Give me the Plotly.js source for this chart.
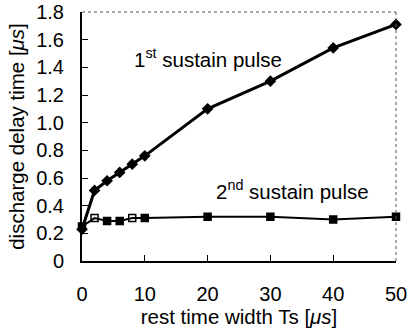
<!DOCTYPE html>
<html><head><meta charset="utf-8">
<script src="https://cdn.plot.ly/plotly-3.0.1.min.js"></script>
<style>html,body{margin:0;padding:0;background:#fff}#c{width:408px;height:333px}</style>
</head><body><div id="c"></div>
<script>
const restTime = [0, 2, 4, 6, 8, 10, 20, 30, 40, 50];
const firstPulse = [0.23, 0.51, 0.58, 0.64, 0.70, 0.76, 1.10, 1.30, 1.54, 1.71];
const secondPulse = [0.25, 0.31, 0.29, 0.29, 0.31, 0.31, 0.32, 0.32, 0.30, 0.32];
const secondSymbols = ['square','square-open','square','square','square-open','square','square','square','square','square'];
const yTickVals = [0, 0.2, 0.4, 0.6, 0.8, 1.0, 1.2, 1.4, 1.6, 1.8];
const yTickText = ['0', '0.2', '0.4', '0.6', '0.8', '1.0', '1.2', '1.4', '1.6', '1.8'];
const xTickVals = [0, 10, 20, 30, 40, 50];

const font = {family: 'Liberation Sans, Arial, sans-serif', color: '#000'};
const f = s => Object.assign({size: s}, font);
const data = [
  {x: restTime, y: firstPulse, mode: 'lines+markers', line: {color: '#000', width: 3},
   marker: {symbol: 'diamond', size: 9, color: '#000'}, cliponaxis: false},
  {x: restTime, y: secondPulse, mode: 'lines+markers', line: {color: '#000', width: 2},
   marker: {symbol: secondSymbols, size: 7, color: '#000', line: {width: 1.5, color: '#000'}}, cliponaxis: false}
];
const layout = {
  width: 408, height: 333,
  margin: {l: 82, r: 12, t: 12, b: 72},
  paper_bgcolor: '#fff', plot_bgcolor: '#fff',
  showlegend: false,
  font: f(20),
  xaxis: {range: [0, 50], tickvals: xTickVals, ticks: 'inside', ticklen: 6, tickcolor: '#000',
    showgrid: false, zeroline: false, showline: true, linecolor: '#000', linewidth: 2,
    ticklabelstandoff: 14, tickfont: f(20),
    title: {text: 'rest time width Ts [<i>μs</i>]', font: f(20.5), standoff: 4}},
  yaxis: {range: [0, 1.8], tickvals: yTickVals, ticktext: yTickText, ticks: 'inside', ticklen: 6, tickcolor: '#000',
    showgrid: false, zeroline: false, showline: true, linecolor: '#000', linewidth: 2,
    ticklabelstandoff: 12, tickfont: f(20),
    title: {text: 'discharge delay time [<i>μs</i>]', font: f(20.5), standoff: 6}},
  shapes: [
    {type: 'line', xref: 'paper', yref: 'paper', x0: 0, x1: 1, y0: 1, y1: 1, line: {color: '#555', width: 1, dash: 'dot'}},
    {type: 'line', xref: 'paper', yref: 'paper', x0: 1, x1: 1, y0: 0, y1: 1, line: {color: '#555', width: 1, dash: 'dot'}}
  ],
  annotations: [
    {x: 8, y: 1.47, xref: 'x', yref: 'y', xanchor: 'left', yanchor: 'middle', showarrow: false,
     text: '1<sup>st</sup> sustain pulse', font: f(20.5)},
    {x: 21, y: 0.51, xref: 'x', yref: 'y', xanchor: 'left', yanchor: 'middle', showarrow: false,
     text: '2<sup>nd</sup> sustain pulse', font: f(20.5)}
  ]
};
Plotly.newPlot('c', data, layout, {staticPlot: true, displayModeBar: false});
</script></body></html>
